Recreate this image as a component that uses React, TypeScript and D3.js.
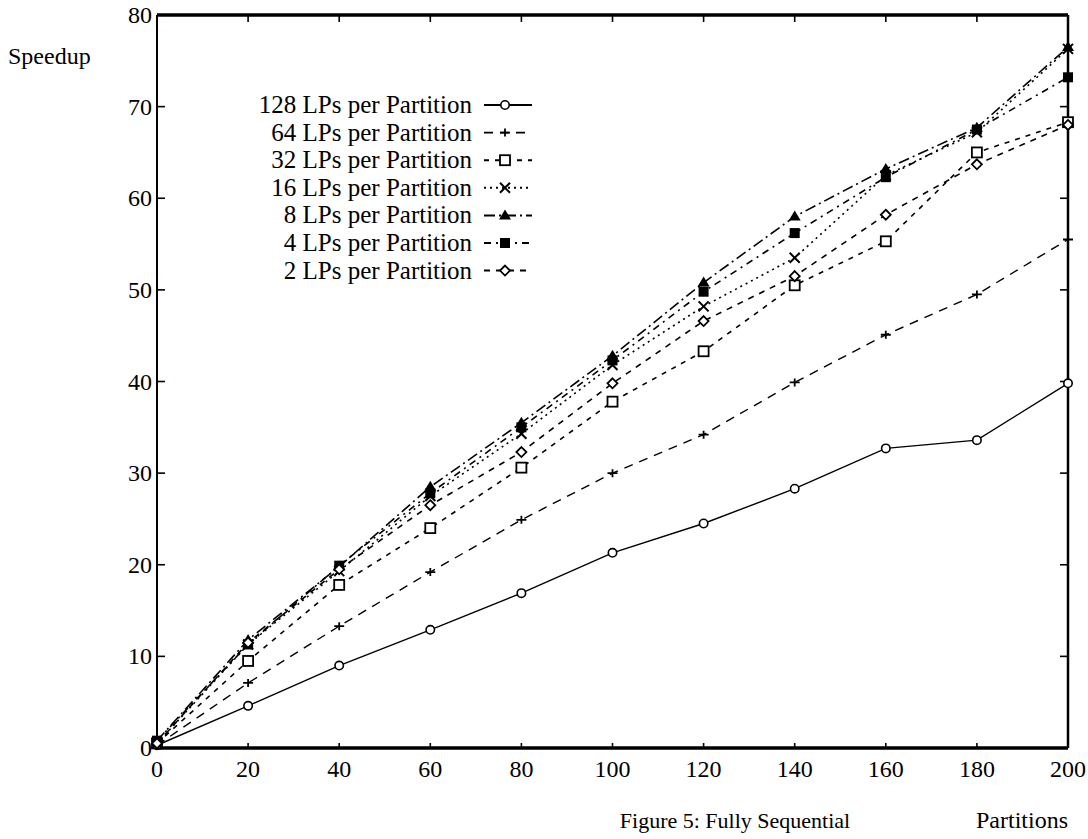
import { useEffect, useRef } from "react";
import * as d3 from "d3";

const partitions = [0, 20, 40, 60, 80, 100, 120, 140, 160, 180, 200];

const lps128 = [0.3, 4.6, 9.0, 12.9, 16.9, 21.3, 24.5, 28.3, 32.7, 33.6, 39.8];
const lps64 = [0.3, 7.1, 13.3, 19.2, 24.9, 30.0, 34.2, 39.9, 45.1, 49.5, 55.5];
const lps32 = [0.5, 9.5, 17.8, 24.0, 30.6, 37.8, 43.3, 50.5, 55.3, 65.0, 68.3];
const lps16 = [0.5, 11.3, 19.3, 27.5, 34.3, 41.8, 48.2, 53.5, 62.5, 67.2, 76.3];
const lps8 = [0.8, 11.8, 19.8, 28.5, 35.5, 42.8, 50.8, 58.0, 63.2, 67.7, 76.5];
const lps4 = [0.8, 11.3, 19.9, 27.8, 35.0, 42.3, 49.8, 56.2, 62.3, 67.5, 73.2];
const lps2 = [0.5, 11.5, 19.5, 26.5, 32.3, 39.8, 46.6, 51.5, 58.2, 63.7, 68.0];

const seriesLabels = [
  "128 LPs per Partition",
  "64 LPs per Partition",
  "32 LPs per Partition",
  "16 LPs per Partition",
  "8 LPs per Partition",
  "4 LPs per Partition",
  "2 LPs per Partition",
];

const xTicks = [0, 20, 40, 60, 80, 100, 120, 140, 160, 180, 200];
const yTicks = [0, 10, 20, 30, 40, 50, 60, 70, 80];

const FONT = "'Liberation Serif', 'DejaVu Serif', serif";

type Marker = "circle" | "plus" | "square" | "cross" | "triangle" | "star" | "diamond";

const styles: { dash: string; marker: Marker; width: number }[] = [
  { dash: "none", marker: "circle", width: 1.4 },
  { dash: "9,7", marker: "plus", width: 1.4 },
  { dash: "5,6", marker: "square", width: 1.6 },
  { dash: "2,4", marker: "cross", width: 1.6 },
  { dash: "11,4,2,4", marker: "triangle", width: 1.6 },
  { dash: "7,5,2,5", marker: "star", width: 1.6 },
  { dash: "6,6", marker: "diamond", width: 1.6 },
];

function drawMarker(g: d3.Selection<SVGGElement, unknown, null, undefined>, kind: Marker, cx: number, cy: number) {
  const m = g.append("g").attr("transform", `translate(${cx},${cy})`);
  if (kind === "circle") {
    m.append("circle").attr("r", 4.2).attr("fill", "white").attr("stroke", "black").attr("stroke-width", 1.6);
  } else if (kind === "plus") {
    m.append("path").attr("d", "M-5,0H5M0,-4V4").attr("stroke", "black").attr("stroke-width", 1.8);
  } else if (kind === "square") {
    m.append("rect").attr("x", -5).attr("y", -5).attr("width", 10).attr("height", 10)
      .attr("fill", "white").attr("stroke", "black").attr("stroke-width", 1.8);
  } else if (kind === "cross") {
    m.append("path").attr("d", "M-5,-5L5,5M-5,5L5,-5").attr("stroke", "black").attr("stroke-width", 2);
  } else if (kind === "triangle") {
    m.append("path").attr("d", "M0,-6L6,4H-6Z").attr("fill", "black");
  } else if (kind === "star") {
    m.append("rect").attr("x", -5).attr("y", -5).attr("width", 10).attr("height", 10).attr("fill", "black");
  } else {
    m.append("path").attr("d", "M0,-5L5,0L0,5L-5,0Z").attr("fill", "white").attr("stroke", "black").attr("stroke-width", 1.8);
  }
}

export default function App() {
  const ref = useRef<SVGSVGElement | null>(null);

  useEffect(() => {
    const svg = d3.select(ref.current);
    svg.selectAll("*").remove();

    const x = d3.scaleLinear().domain([0, 200]).range([157, 1068]);
    const y = d3.scaleLinear().domain([0, 80]).range([748, 15]);
    const [x0, x1] = x.range();
    const [y0, y1] = y.range();

    // frame
    svg.append("line").attr("x1", x0).attr("x2", x1).attr("y1", y1).attr("y2", y1).attr("stroke", "black").attr("stroke-width", 3.5);
    svg.append("line").attr("x1", x0).attr("x2", x1).attr("y1", y0).attr("y2", y0).attr("stroke", "black").attr("stroke-width", 3.5);
    svg.append("line").attr("x1", x0).attr("x2", x0).attr("y1", y1).attr("y2", y0).attr("stroke", "black").attr("stroke-width", 2);
    svg.append("line").attr("x1", x1).attr("x2", x1).attr("y1", y1).attr("y2", y0).attr("stroke", "black").attr("stroke-width", 2.5);

    // inward ticks
    const tickG = svg.append("g").attr("stroke", "black").attr("stroke-width", 1.6);
    xTicks.slice(1, -1).forEach((t) => {
      tickG.append("line").attr("x1", x(t)).attr("x2", x(t)).attr("y1", y1).attr("y2", y1 + 7);
      tickG.append("line").attr("x1", x(t)).attr("x2", x(t)).attr("y1", y0).attr("y2", y0 - 5);
    });
    yTicks.slice(1, -1).forEach((t) => {
      tickG.append("line").attr("x1", x0).attr("x2", x0 + 8).attr("y1", y(t)).attr("y2", y(t));
      tickG.append("line").attr("x1", x1).attr("x2", x1 - 8).attr("y1", y(t)).attr("y2", y(t));
    });

    // tick labels
    svg.append("g").selectAll("text").data(xTicks).enter().append("text")
      .attr("x", (d) => x(d)).attr("y", y0 + 29)
      .attr("text-anchor", "middle").attr("font-family", FONT).attr("font-size", 24)
      .text((d) => d);
    svg.append("g").selectAll("text").data(yTicks).enter().append("text")
      .attr("x", x0 - 5).attr("y", (d) => y(d) + 8)
      .attr("text-anchor", "end").attr("font-family", FONT).attr("font-size", 24)
      .text((d) => d);

    svg.append("text").attr("x", 8).attr("y", 64).attr("font-family", FONT).attr("font-size", 24).text("Speedup");
    svg.append("text").attr("x", 735).attr("y", 828).attr("text-anchor", "middle").attr("font-family", FONT).attr("font-size", 22)
      .text("Figure 5: Fully Sequential");
    svg.append("text").attr("x", 1022).attr("y", 828).attr("text-anchor", "middle").attr("font-family", FONT).attr("font-size", 24)
      .text("Partitions");

    const allSeries = [lps128, lps64, lps32, lps16, lps8, lps4, lps2];
    const line = d3.line<number>().x((_, i) => x(partitions[i])).y((d) => y(d));

    allSeries.forEach((vals, si) => {
      const st = styles[si];
      svg.append("path").datum(vals).attr("d", line)
        .attr("fill", "none").attr("stroke", "black").attr("stroke-width", st.width)
        .attr("stroke-dasharray", st.dash);
      const mg = svg.append("g");
      vals.forEach((v, i) => drawMarker(mg, st.marker, x(partitions[i]), y(v)));
    });

    // legend
    const legend = svg.append("g");
    seriesLabels.forEach((label, i) => {
      const ly = 105 + i * 27.6;
      legend.append("text").attr("x", 472).attr("y", ly + 8).attr("text-anchor", "end")
        .attr("font-family", FONT).attr("font-size", 25).text(label);
      legend.append("line").attr("x1", 484).attr("x2", 532).attr("y1", ly).attr("y2", ly)
        .attr("stroke", "black").attr("stroke-width", styles[i].width + 0.4)
        .attr("stroke-dasharray", styles[i].dash);
      drawMarker(legend, styles[i].marker, 505, ly);
    });
  }, []);

  return (
    <svg
      ref={ref}
      width={1088}
      height={839}
      style={{ position: "absolute", left: 0, top: 0, background: "white" }}
    />
  );
}
